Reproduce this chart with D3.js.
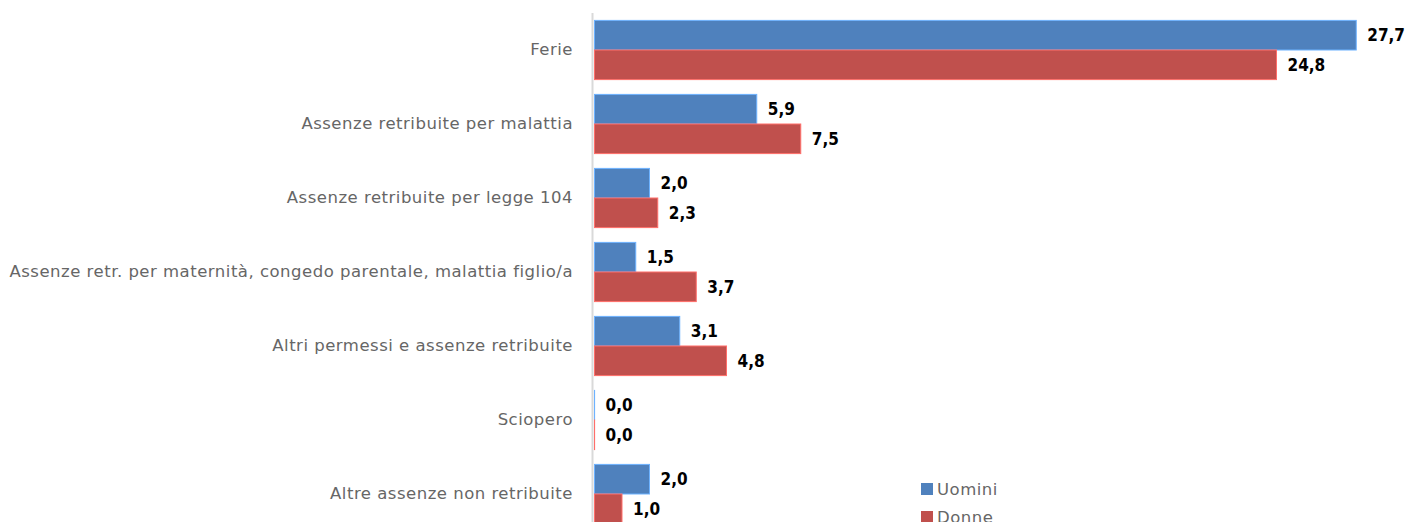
<!DOCTYPE html>
<html>
<head>
<meta charset="utf-8">
<script src="https://cdn.jsdelivr.net/npm/d3@7"></script>
<style>
  body { margin: 0; background: #fff; }
  svg { display: block; }
</style>
</head>
<body>
<script>
var width = 1407,
  height = 522;

// data
var categories = [
  "Ferie",
  "Assenze retribuite per malattia",
  "Assenze retribuite per legge 104",
  "Assenze retr. per maternità, congedo parentale, malattia figlio/a",
  "Altri permessi e assenze retribuite",
  "Sciopero",
  "Altre assenze non retribuite"
];
var seriesNames = ["Uomini", "Donne"];
var uomini = [27.7, 5.9, 2.0, 1.5, 3.1, 0.0, 2.0];
var donne = [24.8, 7.5, 2.3, 3.7, 4.8, 0.0, 1.0];
var colors = ["#4f81bd", "#c0504d"];

var rows = categories.map(function(c, i) {
  return { cat: c, values: [uomini[i], donne[i]] };
});

var labelFont = "'DejaVu Sans', sans-serif";

var svg = d3.select("body").append("svg")
  .attr("width", width)
  .attr("height", height);

var x = d3.scaleLinear().domain([0, 30]).range([594.5, 594.5 + 30 * 27.5]);

var y = d3.scaleBand()
  .domain(categories)
  .range([13, 13 + 7 * 74])
  .paddingInner(0.2)
  .paddingOuter(0.1);

var ySub = d3.scaleBand()
  .domain(seriesNames)
  .range([0, y.bandwidth()]);

var locale = d3.formatLocale({ decimal: ",", thousands: ".", grouping: [3], currency: ["", "€"] });
var fmt = locale.format(".1f");

// category labels
svg.append("g")
  .selectAll("text")
  .data(categories)
  .enter().append("text")
    .attr("x", 573)
    .attr("y", function(d) { return y(d) + y.bandwidth() / 2 + 5; })
    .attr("text-anchor", "end")
    .style("font-family", labelFont)
    .style("font-size", "16.5px")
    .style("letter-spacing", "0.5px")
    .style("fill", "#666")
    .text(function(d) { return d; });

// axis line
svg.append("line")
  .attr("x1", 592.5).attr("x2", 592.5)
  .attr("y1", 13).attr("y2", height)
  .attr("stroke", "#d9d9d9")
  .attr("stroke-width", 2);

// bars
var group = svg.append("g")
  .selectAll("g")
  .data(rows)
  .enter().append("g")
    .attr("transform", function(d) { return "translate(0," + y(d.cat) + ")"; });

group.selectAll("rect")
  .data(function(d) { return d.values.map(function(v, k) { return { v: v, k: k }; }); })
  .enter().append("rect")
    .attr("x", x(0))
    .attr("y", function(d) { return ySub(seriesNames[d.k]); })
    .attr("width", function(d) { return Math.max(x(d.v) - x(0), 0.1); })
    .attr("height", ySub.bandwidth())
    .attr("fill", function(d) { return colors[d.k]; })
    .attr("stroke", function(d) { return d3.color(colors[d.k]).brighter(0.9); })
    .attr("stroke-width", 1);

group.selectAll("text")
  .data(function(d) { return d.values.map(function(v, k) { return { v: v, k: k }; }); })
  .enter().append("text")
    .attr("x", function(d) { return x(d.v) + 11; })
    .attr("y", function(d) { return ySub(seriesNames[d.k]) + ySub.bandwidth() / 2 + 6; })
    .style("font-family", "'DejaVu Sans Condensed', 'DejaVu Sans', sans-serif")
    .style("font-weight", "bold")
    .style("font-size", "17px")
    .style("fill", "#000")
    .text(function(d) { return fmt(d.v); });

// legend
var legend = svg.append("g")
  .selectAll("g")
  .data(seriesNames)
  .enter().append("g")
    .attr("transform", function(d, i) { return "translate(921," + (483 + i * 28) + ")"; });

legend.append("rect")
  .attr("width", 12)
  .attr("height", 12)
  .attr("fill", function(d, i) { return colors[i]; });

legend.append("text")
  .attr("x", 16)
  .attr("y", 12)
  .style("font-family", labelFont)
  .style("font-size", "16.5px")
  .style("letter-spacing", "0.5px")
  .style("fill", "#666")
  .text(function(d) { return d; });
</script>
</body>
</html>
